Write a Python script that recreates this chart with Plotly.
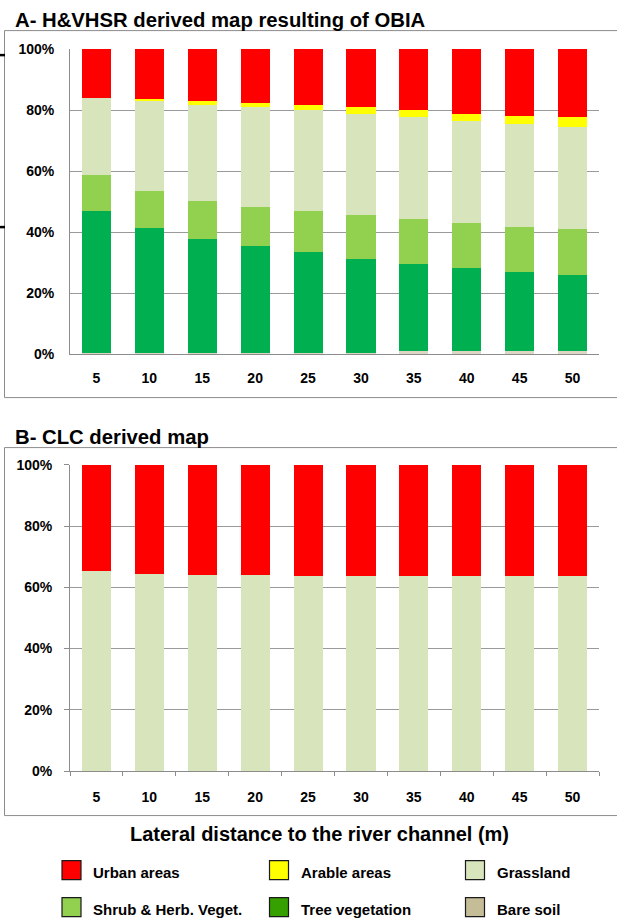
import plotly.graph_objects as go

W, H = 617, 918

# ---------------- data ----------------
distances = ["5", "10", "15", "20", "25", "30", "35", "40", "45", "50"]

# Panel A (H&VHSR / OBIA) - share of each class (%), stacked bottom -> top
a_bare_soil = [0.3, 0.3, 0.4, 0.4, 0.5, 0.5, 1.0, 1.0, 1.0, 1.0]
a_tree_veg = [46.6, 41.2, 37.3, 35.2, 33.0, 30.8, 28.7, 27.1, 25.8, 25.0]
a_shrub = [11.7, 12.1, 12.6, 12.5, 13.4, 14.4, 14.7, 14.9, 14.9, 15.1]
a_grassland = [25.5, 29.4, 31.3, 32.8, 33.1, 33.1, 33.2, 33.3, 33.7, 33.4]
a_arable = [0.0, 0.7, 1.4, 1.3, 1.6, 2.1, 2.4, 2.5, 2.8, 3.3]
a_urban = [15.9, 16.3, 17.0, 17.8, 18.4, 19.1, 20.0, 21.2, 21.8, 22.2]

# Panel B (CLC)
b_grassland = [65.4, 64.5, 64.0, 64.0, 63.6, 63.6, 63.6, 63.6, 63.6, 63.6]
b_urban = [34.6, 35.5, 36.0, 36.0, 36.4, 36.4, 36.4, 36.4, 36.4, 36.4]

y_ticks = [0, 20, 40, 60, 80, 100]
y_tick_labels = ["0%", "20%", "40%", "60%", "80%", "100%"]

legend_names = ["Urban areas", "Arable areas", "Grassland",
                "Shrub & Herb. Veget.", "Tree vegetation", "Bare soil"]
legend_colors = ["#FF0000", "#FFFF00", "#D8E4BC", "#92D050", "#36A000", "#C4BD97"]

bar_colors = {
    "urban": "#FF0000", "arable": "#FFFF00", "grass": "#D8E4BC",
    "shrub": "#92D050", "tree": "#00B050", "bare": "#DDD6C4",
}

title_a = "A- H&VHSR derived map resulting of OBIA"
title_b = "B- CLC derived map"
x_title = "Lateral distance to the river channel (m)"

# ---------------- helpers ----------------
def px(x):
    return x / W

def py(y):
    # pixel (from top) -> paper fraction; includes a small correction for page offset
    yy = (y - 7.9) / 0.9826
    return 1 - yy / H

FONT = "Liberation Sans, Arial, sans-serif"

fig = go.Figure()

series_a = [
    (a_bare_soil, "bare"), (a_tree_veg, "tree"), (a_shrub, "shrub"),
    (a_grassland, "grass"), (a_arable, "arable"), (a_urban, "urban"),
]
for vals, key in series_a:
    fig.add_trace(go.Bar(x=distances, y=vals, marker=dict(color=bar_colors[key], line=dict(width=0)),
                         xaxis="x", yaxis="y", showlegend=False))

series_b = [(b_grassland, "grass"), (b_urban, "urban")]
for vals, key in series_b:
    fig.add_trace(go.Bar(x=distances, y=vals, marker=dict(color=bar_colors[key], line=dict(width=0)),
                         xaxis="x2", yaxis="y2", showlegend=False))

tickfont = dict(family=FONT, size=14, color="#000000", weight="bold")
grid_col = "#9A9A9A"
axis_col = "#8C8C8C"

common_x = dict(type="category", showgrid=False, showline=True, linecolor=axis_col,
                linewidth=1, tickfont=tickfont, range=[-0.5, 9.5], fixedrange=True)
common_y = dict(range=[0, 100], tickmode="array", tickvals=y_ticks, ticktext=y_tick_labels,
                showgrid=True, gridcolor=grid_col, gridwidth=1, showline=True,
                linecolor=axis_col, linewidth=1, tickfont=tickfont, zeroline=False,
                fixedrange=True)

fig.update_layout(
    width=W, height=H,
    margin=dict(l=0, r=0, t=0, b=0),
    paper_bgcolor="white", plot_bgcolor="white",
    barmode="stack", bargap=0.45,
    xaxis=dict(domain=[px(70), px(599)], anchor="y", ticks="", ticklabelstandoff=11, **common_x),
    yaxis=dict(domain=[py(354), py(49)], anchor="x", ticks="", ticklabelstandoff=12, **common_y),
    xaxis2=dict(domain=[px(70), px(599)], anchor="y2", ticks="outside", tickson="boundaries",
                ticklen=4, tickcolor=axis_col, ticklabelstandoff=13, **common_x),
    yaxis2=dict(domain=[py(771), py(464.7)], anchor="x2", ticks="outside", ticklen=5,
                tickcolor=axis_col, ticklabelstandoff=9, **common_y),
    showlegend=False,
)

shapes = []
annotations = []

# panel frames (extend past right edge, as in reference)
for top, bottom in [(30.5, 397.5), (447.5, 815.5)]:
    shapes.append(dict(type="rect", xref="paper", yref="paper",
                       x0=px(4.5), x1=px(W + 5), y0=py(bottom), y1=py(top),
                       line=dict(color="#8C8C8C", width=1), fillcolor="rgba(0,0,0,0)", layer="below"))

# small dark marks at left edge
for yy in [55, 227]:
    shapes.append(dict(type="line", xref="paper", yref="paper",
                       x0=px(0), x1=px(5), y0=py(yy), y1=py(yy),
                       line=dict(color="#000000", width=2.5)))

annotations.append(dict(text="<b>%s</b>" % title_a, x=px(13), y=py(20), xref="paper", yref="paper",
                        xanchor="left", yanchor="middle", showarrow=False,
                        font=dict(family=FONT, size=20.3, color="#000000")))
annotations.append(dict(text="<b>%s</b>" % title_b, x=px(13), y=py(437), xref="paper", yref="paper",
                        xanchor="left", yanchor="middle", showarrow=False,
                        font=dict(family=FONT, size=20.3, color="#000000")))
annotations.append(dict(text="<b>%s</b>" % x_title, x=px(319), y=py(834), xref="paper", yref="paper",
                        xanchor="center", yanchor="middle", showarrow=False,
                        font=dict(family=FONT, size=20, color="#000000")))

# legend (3 columns x 2 rows)
col_x = [62, 269.5, 465.5]
row_y = [870, 907]
for i, (name, col) in enumerate(zip(legend_names, legend_colors)):
    r, c = divmod(i, 3)
    x0 = col_x[c]
    yc = row_y[r]
    shapes.append(dict(type="rect", xref="paper", yref="paper",
                       x0=px(x0), x1=px(x0 + 19), y0=py(yc + 9.5), y1=py(yc - 9.5),
                       line=dict(color="#1A1A1A", width=1.2), fillcolor=col))
    annotations.append(dict(text="<b>%s</b>" % name, x=px(x0 + 29), y=py(yc + 2.5),
                            xref="paper", yref="paper", xanchor="left", yanchor="middle",
                            showarrow=False, font=dict(family=FONT, size=15, color="#000000")))

fig.update_layout(shapes=shapes, annotations=annotations)

post = (
    "document.documentElement.style.margin='0';"
    "document.documentElement.style.overflow='hidden';"
    "document.body.style.margin='0';document.body.style.padding='0';"
    "document.body.style.overflow='hidden';"
    "var d=document.getElementById('{plot_id}');"
    "d.style.position='fixed';d.style.left='0px';d.style.top='0px';"
)
fig.write_html("out.html", config={"displayModeBar": False}, post_script=post)
